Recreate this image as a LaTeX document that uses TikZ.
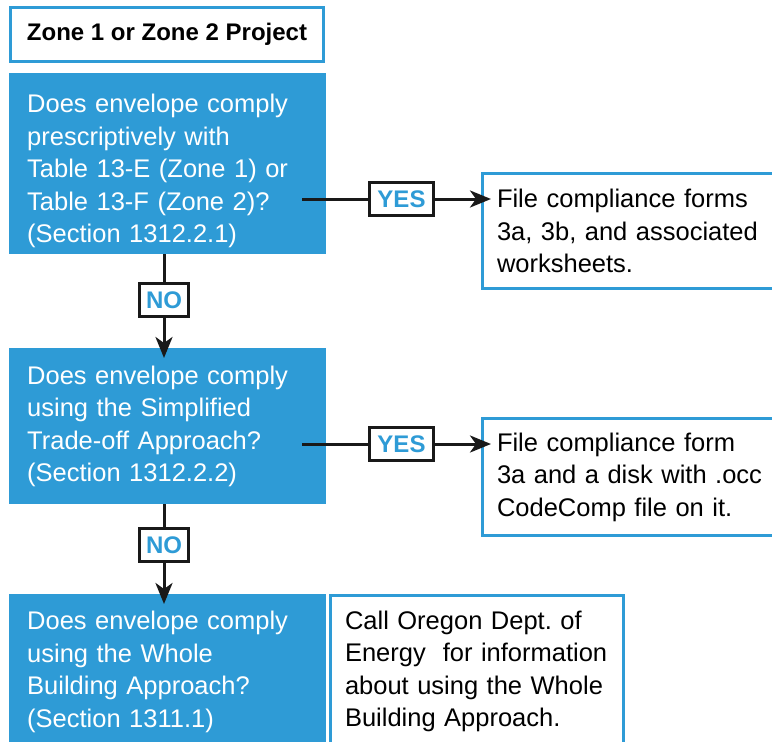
\documentclass[tikz,border=0pt]{standalone}
\usepackage{fontspec}
\setmainfont{Liberation Sans}
\usepackage{xcolor}
\usetikzlibrary{arrows.meta}
\definecolor{zoneblue}{RGB}{46,155,214}
\newcommand\bodyfont{\fontsize{25.5}{32.5}\selectfont}
\newcommand\tagfont{\fontsize{24}{28}\selectfont\bfseries}

\begin{document}
\begin{tikzpicture}[x=1pt, y=-1pt,
  question/.style={fill=zoneblue, text=white, anchor=north west, align=left,
    text width=281pt, inner xsep=18pt, inner ysep=0pt, minimum width=317pt, font=\bodyfont},
  answer/.style={draw=zoneblue, line width=3pt, fill=white, text=black, anchor=north west,
    align=left, inner xsep=14.5pt, inner ysep=0pt, font=\bodyfont},
  tagbox/.style={draw=black!90, line width=3pt, fill=white, text=zoneblue, font=\tagfont,
    inner sep=0pt, minimum height=33pt},
  conn/.style={draw=black!90, line width=3pt},
  tip/.style={-{Stealth[length=21pt, width=17pt, inset=6pt]}, shorten >=-10pt}]
\useasboundingbox (0,0) rectangle (772,742);

% Caja del título
\node[draw=zoneblue, line width=3pt, anchor=north west, minimum width=313pt,
  minimum height=54pt, font=\tagfont] (title) at (9,6) {Zone 1 or Zone 2 Project};

% Preguntas
\node[question, minimum height=181pt] (q1) at (9,73)
  {\rule{0pt}{33pt}Does envelope comply\\prescriptively with\\Table 13-E (Zone 1) or\\Table 13-F (Zone 2)?\\(Section 1312.2.1)};
\node[question, minimum height=156pt] (q2) at (9,348)
  {Does envelope comply\\using the Simplified\\Trade-off Approach?\\(Section 1312.2.2)};
\node[question, minimum height=155pt] (q3) at (9,594)
  {Does envelope comply\\using the Whole\\Building Approach?\\(Section 1311.1)};

% Respuestas
\node[answer, text width=300pt, minimum height=115pt] (r1) at (481,172)
  {File compliance forms\\3a, 3b, and associated\\worksheets.};
\node[answer, text width=300pt, minimum height=117pt] (r2) at (481,417)
  {File compliance form\\3a and a disk with .occ\\CodeComp file on it.};
\node[answer, text width=264pt, minimum height=152pt] (info) at (329,594)
  {Call Oregon Dept.\ of\\Energy\ \ for information\\about using the Whole\\Building Approach.};

% Etiquetas SI / NO
\node[tagbox, minimum width=64pt] (yes1) at (401.5,199) {YES};
\node[tagbox, minimum width=64pt] (yes2) at (401.5,444) {YES};
\node[tagbox, minimum width=49pt] (no1) at (164,300) {NO};
\node[tagbox, minimum width=49pt] (no2) at (164,545) {NO};

% Conectores
\coordinate (q1out) at (302,199);
\coordinate (q2out) at (302,444);
\draw[conn] (q1out) -- (yes1.west);
\draw[conn, tip] (yes1.east) -- (yes1.east -| r1.west);
\draw[conn] (q2out) -- (yes2.west);
\draw[conn, tip] (yes2.east) -- (yes2.east -| r2.west);
\draw[conn] (no1.north |- q1.south) -- (no1.north);
\draw[conn, tip] (no1.south) -- (no1.south |- q2.north);
\draw[conn] (no2.north |- q2.south) -- (no2.north);
\draw[conn, tip] (no2.south) -- (no2.south |- q3.north);

\end{tikzpicture}
\end{document}
